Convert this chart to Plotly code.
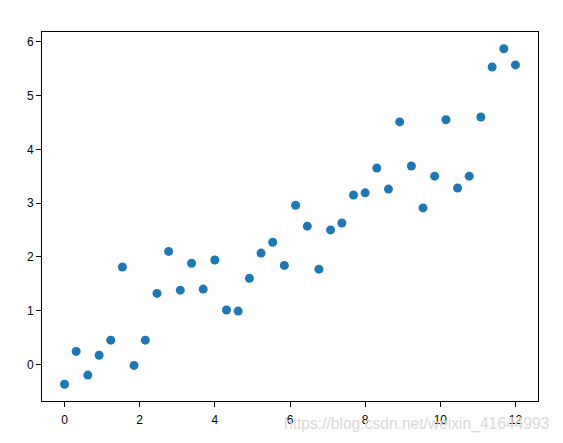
import plotly.graph_objects as go

x_vals = [0.0, 0.31, 0.62, 0.92, 1.23, 1.54, 1.85, 2.15, 2.46, 2.77,
          3.08, 3.38, 3.69, 4.0, 4.31, 4.62, 4.92, 5.23, 5.54, 5.85,
          6.15, 6.46, 6.77, 7.08, 7.38, 7.69, 8.0, 8.31, 8.62, 8.92,
          9.23, 9.54, 9.85, 10.15, 10.46, 10.77, 11.08, 11.38, 11.69, 12.0]
y_vals = [-0.37, 0.24, -0.2, 0.17, 0.45, 1.81, -0.02, 0.45, 1.32, 2.1,
          1.38, 1.88, 1.4, 1.94, 1.01, 0.99, 1.6, 2.07, 2.27, 1.84,
          2.96, 2.57, 1.77, 2.5, 2.63, 3.15, 3.19, 3.65, 3.26, 4.51,
          3.69, 2.91, 3.5, 4.55, 3.28, 3.5, 4.6, 5.53, 5.87, 5.57]
x_ticks = [0, 2, 4, 6, 8, 10, 12]
y_ticks = [0, 1, 2, 3, 4, 5, 6]
watermark = "https://blog.csdn.net/weixin_41644993"

fig = go.Figure()
fig.add_trace(go.Scatter(x=x_vals, y=y_vals, mode="markers",
                         marker=dict(color="#1f77b4", size=9, line=dict(width=0))))

axis_common = dict(showline=True, mirror=True, linecolor="black", linewidth=1,
                   showgrid=False, zeroline=False, ticks="outside", ticklen=5,
                   tickcolor="black", tickwidth=1,
                   tickfont=dict(family="Liberation Sans, Arial", size=12, color="black"))

xmin, xmax = min(x_vals), max(x_vals)
ymin, ymax = min(y_vals), max(y_vals)
xpad = (xmax - xmin) * 0.05
ypad = (ymax - ymin) * 0.05

fig.update_xaxes(range=[xmin - xpad, xmax + xpad], tickvals=x_ticks,
                 ticklabelstandoff=3, **axis_common)
fig.update_yaxes(range=[ymin - ypad, ymax + ypad], tickvals=y_ticks, **axis_common)

fig.add_annotation(text=watermark, xref="paper", yref="paper", x=1.026, y=-0.062,
                   xanchor="right", yanchor="middle", showarrow=False,
                   font=dict(family="Liberation Sans, Arial", size=15.6, color="#dadada"))

fig.update_layout(width=555, height=435, plot_bgcolor="white", paper_bgcolor="white",
                  margin=dict(l=34, r=25, t=24, b=42), showlegend=False)

fig.write_html("out.html")
